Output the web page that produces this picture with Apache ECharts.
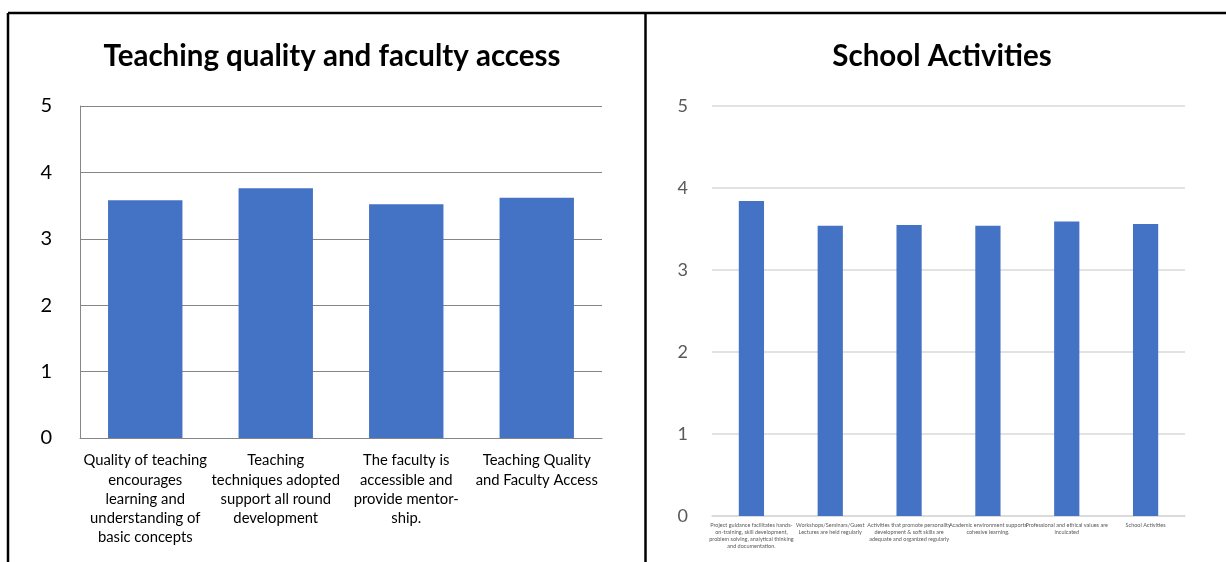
<!DOCTYPE html>
<html>
<head>
<meta charset="utf-8">
<script src="https://cdn.jsdelivr.net/npm/echarts@6/dist/echarts.min.js"></script>
<style>
html, body { margin: 0; padding: 0; background: #fff; }
#main { width: 1226px; height: 562px; }
</style>
</head>
<body>
<div id="main"></div>
<script>
var teachCats = [
    'Quality of teaching\nencourages\nlearning and\nunderstanding of\nbasic concepts',
    'Teaching\ntechniques adopted\nsupport all round\ndevelopment',
    'The faculty is\naccessible and\nprovide mentor-\nship.',
    'Teaching Quality\nand Faculty Access'
];
var teachVals = [3.58, 3.76, 3.52, 3.62];

var schoolCats = [
    'Project guidance facilitates hands-\non-training, skill development,\nproblem solving, analytical thinking\nand documentation.',
    'Workshops/Seminars/Guest\nLectures are held regularly',
    'Activities that promote personality\ndevelopment & soft skills are\nadequate and organized regularly',
    'Academic environment supports\ncohesive learning.',
    'Professional and ethical values are\ninculcated',
    'School Activities'
];
var schoolVals = [3.84, 3.54, 3.55, 3.54, 3.59, 3.56];

var yTicks = [0, 1, 2, 3, 4, 5];

var font = 'Lato, "Open Sans", sans-serif';
var myChart = echarts.init(document.getElementById('main'));

var option = {
    animation: false,
    textStyle: { fontFamily: font },
    title: [
        {
            text: 'Teaching quality and faculty access',
            left: 327, top: 36, textAlign: 'center',
            textStyle: { fontSize: 29.5, fontWeight: 'bold', color: '#000', fontFamily: font }
        },
        {
            text: 'School Activities',
            left: 937, top: 36, textAlign: 'center',
            textStyle: { fontSize: 29.5, fontWeight: 'bold', color: '#000', fontFamily: font }
        }
    ],
    graphic: [
        { type: 'line', shape: { x1: 8, y1: 13, x2: 1226, y2: 13 }, style: { stroke: '#000', lineWidth: 2.5 } },
        { type: 'line', shape: { x1: 8, y1: 13, x2: 8, y2: 562 }, style: { stroke: '#000', lineWidth: 2.5 } },
        { type: 'line', shape: { x1: 645.5, y1: 13, x2: 645.5, y2: 562 }, style: { stroke: '#000', lineWidth: 2.5 } }
    ],
    grid: [
        { left: 80, top: 106, width: 522, height: 332 },
        { left: 712, top: 106, width: 473, height: 410 }
    ],
    xAxis: [
        {
            type: 'category', gridIndex: 0, data: teachCats,
            axisLine: { lineStyle: { color: '#868686', width: 1 } },
            axisTick: { show: false },
            axisLabel: { interval: 0, color: '#000', fontSize: 14.8, lineHeight: 19.2, margin: 13, fontFamily: font }
        },
        {
            type: 'category', gridIndex: 1, data: schoolCats,
            axisLine: { lineStyle: { color: '#d9d9d9', width: 1.5 } },
            axisTick: { show: false },
            axisLabel: { interval: 0, color: '#595959', fontSize: 5.5, lineHeight: 6.8, margin: 6, fontFamily: font }
        }
    ],
    yAxis: [
        {
            type: 'value', gridIndex: 0, min: 0, max: 5, interval: 1,
            axisLine: { show: true, lineStyle: { color: '#868686' } },
            axisTick: { show: false },
            splitLine: { lineStyle: { color: '#868686' } },
            axisLabel: { color: '#000', fontSize: 20, margin: 28, fontFamily: font,
                formatter: function (v) { return yTicks.indexOf(v) >= 0 ? String(v) : ''; } }
        },
        {
            type: 'value', gridIndex: 1, min: 0, max: 5, interval: 1,
            axisLine: { show: false },
            axisTick: { show: false },
            splitLine: { lineStyle: { color: '#d9d9d9', width: 1.5 } },
            axisLabel: { color: '#595959', fontSize: 18, margin: 24, fontFamily: font }
        }
    ],
    series: [
        {
            type: 'bar', xAxisIndex: 0, yAxisIndex: 0, data: teachVals,
            barWidth: '57%',
            itemStyle: { color: '#4472c4' }
        },
        {
            type: 'bar', xAxisIndex: 1, yAxisIndex: 1, data: schoolVals,
            barWidth: '32%',
            itemStyle: { color: '#4472c4' }
        }
    ]
};

if (option && typeof option === 'object') {
    myChart.setOption(option);
}
</script>
</body>
</html>
